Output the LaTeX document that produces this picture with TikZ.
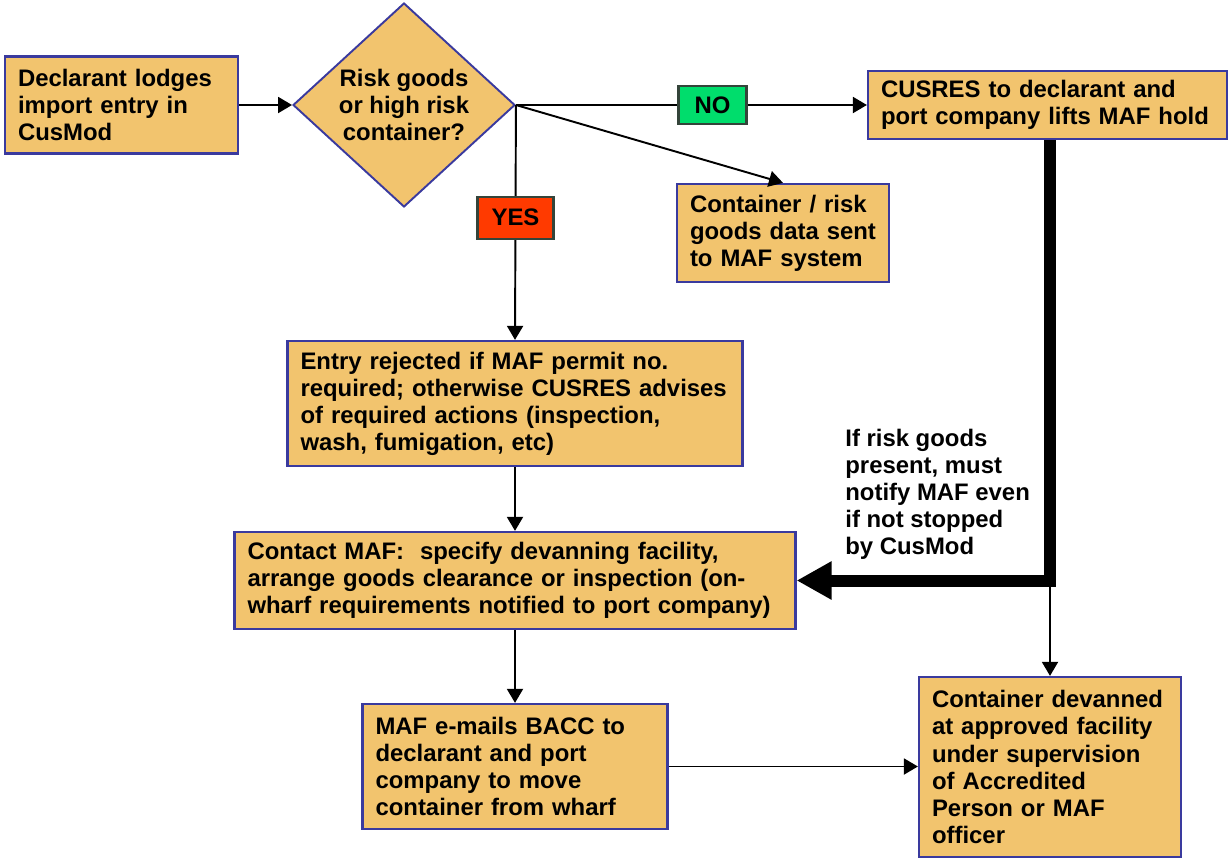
\documentclass[tikz,border=0pt]{standalone}
\usepackage{fontspec}
\setmainfont{Liberation Sans}
\usepackage{xcolor}
\usepackage{tikz}
\usetikzlibrary{calc,positioning,arrows.meta,shapes.geometric}
\definecolor{boxfill}{HTML}{F2C46E}
\definecolor{boxline}{HTML}{3A3A9E}
\definecolor{nogreen}{HTML}{00DD6C}
\definecolor{yesred}{HTML}{FF3A00}
\definecolor{tagline}{HTML}{34443A}

\begin{document}
\begin{tikzpicture}[
    x=0.02cm, y=-0.02cm,
    font=\fontsize{13.6}{15.4}\selectfont\bfseries,
    procbox/.style={rectangle, draw=boxline, fill=boxfill, line width=1.3pt,
      align=left, inner xsep=0.26cm, inner ysep=0.1cm},
    decision/.style={diamond, draw=boxline, fill=boxfill, line width=1.1pt,
      align=center, inner sep=0pt, minimum width=4.44cm, minimum height=4.08cm},
    tag/.style={rectangle, draw=tagline, line width=1.3pt, inner sep=0pt},
    arr/.style={-{Triangle[length=0.28cm,width=0.32cm]}, line width=1.1pt},
    bigarr/.style={-{Triangle[length=0.7cm,width=0.72cm]}, line width=0.24cm,
      line join=miter}
  ]
    \useasboundingbox (0,0) rectangle (1230,859);

    \node[procbox, text width=4.14cm, minimum height=1.94cm] (lodge) at (121.5,105)
      {Declarant lodges\\import entry in\\CusMod};
    \node[decision] (risk) at (404,105) {Risk goods\\or high risk\\container?};
    \node[procbox, text width=6.66cm, minimum height=1.36cm] (cusres) at (1047.5,105)
      {CUSRES to declarant and\\port company lifts MAF hold};
    \node[procbox, text width=3.72cm, minimum height=1.96cm] (datasent) at (783,233)
      {Container / risk\\goods data sent\\to MAF system};
    \node[procbox, text width=8.58cm, minimum height=2.5cm] (reject) at (515,403.5)
      {Entry rejected if MAF permit no.\\required; otherwise CUSRES advises\\of required actions (inspection,\\wash, fumigation, etc)};
    \node[procbox, text width=10.7cm, minimum height=1.94cm] (contact) at (515,580.5)
      {Contact MAF:\ \ specify devanning facility,\\arrange goods clearance or inspection (on-\\wharf requirements notified to port company)};
    \node[procbox, text width=5.58cm, minimum height=2.5cm] (bacc) at (515,766.5)
      {MAF e-mails BACC to\\declarant and port\\company to move\\container from wharf};
    \node[procbox, text width=4.72cm, minimum height=3.6cm] (devan) at (1050,767)
      {Container devanned\\at approved facility\\under supervision\\of Accredited\\Person or MAF\\officer};
    \node[align=left, inner sep=0pt, anchor=west] (note) at (845,494)
      {If risk goods\\present, must\\notify MAF even\\if not stopped\\by CusMod};
    \coordinate (turn) at (1050,580.5);

    \draw[arr] (lodge) -- (risk.west);
    \draw[arr] (risk.east) -- node[tag, fill=nogreen, pos=0.56, minimum width=1.36cm, minimum height=0.76cm] (no) {NO} (cusres.west);
    \draw[arr] (risk.east) -- (datasent.north);
    \draw[arr] (risk.east) -- node[tag, fill=yesred, pos=0.48, minimum width=1.52cm, minimum height=0.84cm] (yes) {YES} (reject.north);
    \draw[arr] (reject) -- (contact);
    \draw[arr] (contact) -- (bacc);
    \draw[arr] (bacc) -- (bacc -| devan.west);
    \draw[bigarr] (cusres.south -| turn) |- (contact.east);
    \draw[arr] (turn) -- (devan.north);
  \end{tikzpicture}
\end{document}
